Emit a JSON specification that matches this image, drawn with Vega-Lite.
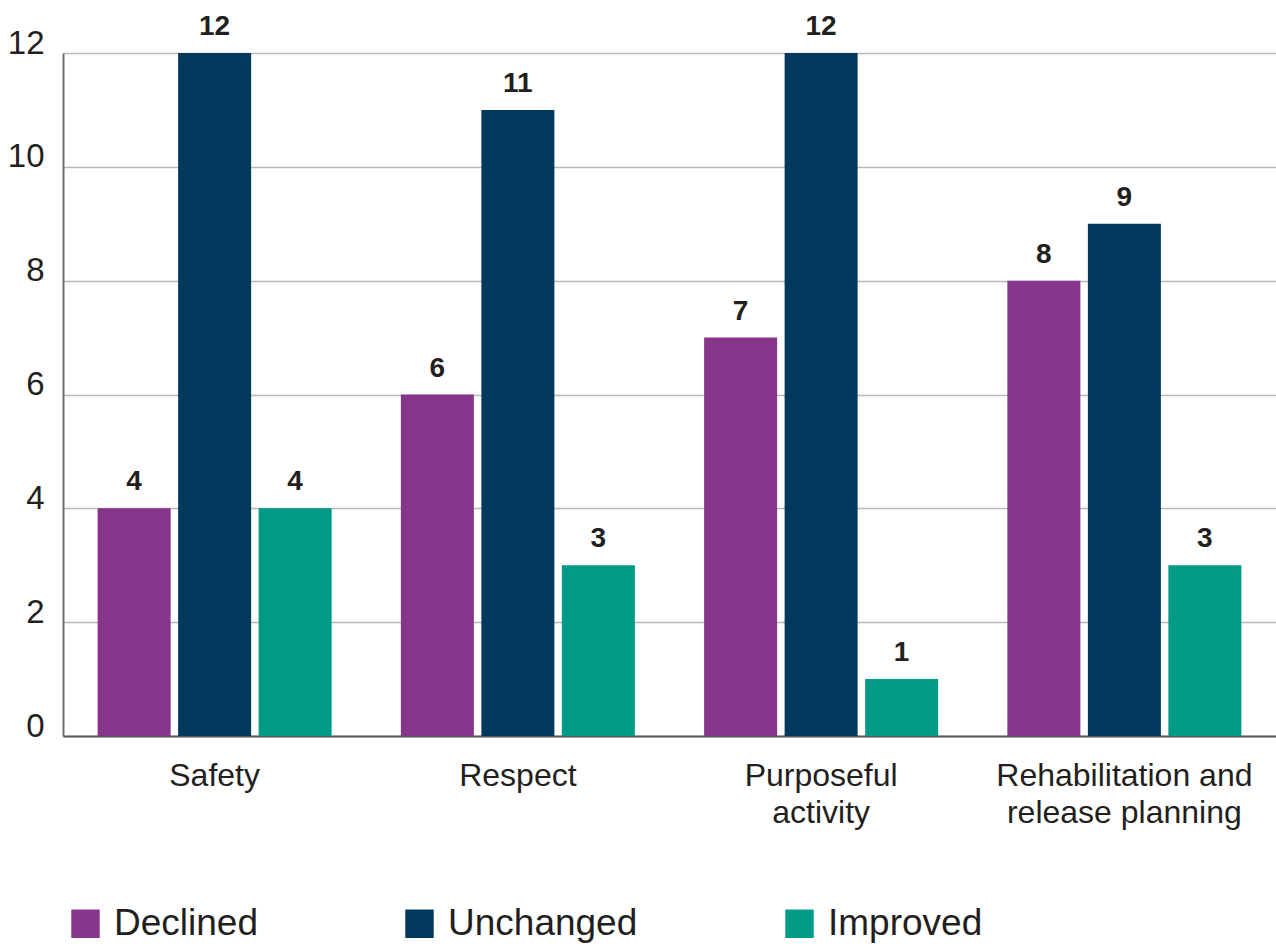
{
  "$schema": "https://vega.github.io/schema/vega-lite/v6.json",
  "width": 1213,
  "height": 683,
  "autosize": {"type": "none"},
  "padding": {"left": 63, "top": 53, "right": 0, "bottom": 212},
  "background": "white",
  "config": {
    "view": {"stroke": null},
    "font": "Liberation Sans",
    "axis": {"labelFont": "Liberation Sans", "labelColor": "#231f20", "ticks": false, "title": null}
  },
  "data": {
    "values": [
      {"area": "Safety", "change": "Declined", "count": 4},
      {"area": "Safety", "change": "Unchanged", "count": 12},
      {"area": "Safety", "change": "Improved", "count": 4},
      {"area": "Respect", "change": "Declined", "count": 6},
      {"area": "Respect", "change": "Unchanged", "count": 11},
      {"area": "Respect", "change": "Improved", "count": 3},
      {"area": "Purposeful activity", "change": "Declined", "count": 7},
      {"area": "Purposeful activity", "change": "Unchanged", "count": 12},
      {"area": "Purposeful activity", "change": "Improved", "count": 1},
      {"area": "Rehabilitation and release planning", "change": "Declined", "count": 8},
      {"area": "Rehabilitation and release planning", "change": "Unchanged", "count": 9},
      {"area": "Rehabilitation and release planning", "change": "Improved", "count": 3}
    ]
  },
  "encoding": {
    "x": {
      "field": "area",
      "type": "nominal",
      "sort": ["Safety", "Respect", "Purposeful activity", "Rehabilitation and release planning"],
      "scale": {"paddingInner": 0, "paddingOuter": 0},
      "axis": {
        "labelAngle": 0,
        "labelFontSize": 32,
        "labelPadding": 24,
        "labelBaseline": "top",
        "labelLineHeight": 37,
        "labelLimit": 500,
        "labelExpr": "datum.label == 'Purposeful activity' ? ['Purposeful', 'activity'] : datum.label == 'Rehabilitation and release planning' ? ['Rehabilitation and', 'release planning'] : datum.label",
        "domain": true,
        "domainColor": "#58595b",
        "domainWidth": 2,
        "grid": false
      }
    },
    "xOffset": {
      "field": "change",
      "type": "nominal",
      "sort": ["Declined", "Unchanged", "Improved"],
      "scale": {"paddingInner": 0.093, "paddingOuter": 0.43}
    },
    "y": {
      "field": "count",
      "type": "quantitative",
      "scale": {"domain": [0, 12], "nice": false},
      "axis": {
        "values": [0, 2, 4, 6, 8, 10, 12],
        "labelFontSize": 33,
        "labelPadding": 19,
        "labelBaseline": "alphabetic",
        "domain": true,
        "domainColor": "#6d6e71",
        "domainWidth": 2,
        "grid": true,
        "gridColor": "#b8b8b8",
        "gridWidth": 1.5
      }
    }
  },
  "layer": [
    {
      "mark": {"type": "bar"},
      "encoding": {
        "color": {
          "field": "change",
          "type": "nominal",
          "sort": ["Declined", "Unchanged", "Improved"],
          "scale": {"domain": ["Declined", "Unchanged", "Improved"], "range": ["#85368a", "#02395c", "#009b86"]},
          "legend": {
            "title": null,
            "orient": "none",
            "direction": "horizontal",
            "legendX": 4,
            "legendY": 852,
            "padding": 0,
            "symbolType": "square",
            "symbolSize": 810,
            "symbolStrokeWidth": 0,
            "symbolOpacity": 1,
            "labelFontSize": 37,
            "labelFont": "Liberation Sans",
            "labelColor": "#231f20",
            "labelOffset": 10,
            "columnPadding": 143,
            "labelLimit": 400
          }
        }
      }
    },
    {
      "mark": {"type": "text", "fontSize": 28, "fontWeight": "bold", "color": "#231f20", "baseline": "alphabetic", "dy": -18},
      "encoding": {
        "text": {"field": "count", "type": "quantitative"}
      }
    }
  ]
}
